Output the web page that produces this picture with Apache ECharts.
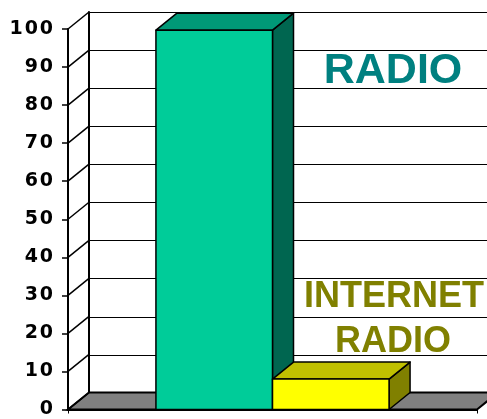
<!DOCTYPE html>
<html>
<head>
<meta charset="utf-8">
<script src="https://cdn.jsdelivr.net/npm/echarts@6/dist/echarts.min.js"></script>
<style>
html,body{margin:0;padding:0;background:#fff;}
#chart{width:487px;height:419px;}
</style>
</head>
<body>
<div id="chart"></div>
<script>
// ---- data ----
const categories = [''];
const seriesNames = ['RADIO', 'INTERNET RADIO'];
const radioValues = [99.7];
const internetRadioValues = [8];
const yTicks = [0, 10, 20, 30, 40, 50, 60, 70, 80, 90, 100];

// ---- style ----
const DX = 21, DY = 17;
const BAR_FRAC = 0.285;
const barColors = [
  { front: '#00CC99', top: '#009977', side: '#006650' },
  { front: '#FFFF00', top: '#C0C000', side: '#808000' }
];

const chart = echarts.init(document.getElementById('chart'), null, { renderer: 'canvas' });

function barRender(idx) {
  return function (params, api) {
    const v = api.value(1);
    const top = api.coord([api.value(0), v]);
    const base = api.coord([api.value(0), 0]);
    const cw = api.size([1, 0])[0];
    const bw = cw * BAR_FRAC;
    const x0 = top[0] - bw + idx * bw;
    const x1 = x0 + bw;
    const yT = top[1], yB = base[1];
    const c = barColors[idx];
    const st = { stroke: '#000', lineWidth: 1.5, lineJoin: 'round' };
    return {
      type: 'group',
      children: [
        { type: 'polygon', shape: { points: [[x1, yT], [x1 + DX, yT - DY], [x1 + DX, yB - DY], [x1, yB]] }, style: Object.assign({ fill: c.side }, st) },
        { type: 'polygon', shape: { points: [[x0, yT], [x1, yT], [x1 + DX, yT - DY], [x0 + DX, yT - DY]] }, style: Object.assign({ fill: c.top }, st) },
        { type: 'rect', shape: { x: x0, y: yT, width: bw, height: yB - yT }, style: Object.assign({ fill: c.front }, st) }
      ]
    };
  };
}

function wallRender(params, api) {
  const v = api.value(1);
  const p = api.coord([0, v]);
  const cs = params.coordSys;
  const children = [];
  if (v === 0) {
    const yB = p[1];
    children.push({
      type: 'polygon',
      shape: { points: [[cs.x, yB], [cs.x + cs.width, yB], [cs.x + cs.width + DX, yB - DY], [cs.x + DX, yB - DY]] },
      style: { fill: '#808080', stroke: '#000', lineWidth: 2 }
    });
  }
  children.push({
    type: 'line',
    shape: { x1: cs.x, y1: p[1], x2: cs.x + DX, y2: p[1] - DY },
    style: { stroke: '#000', lineWidth: 1.5 }
  });
  return { type: 'group', children: children };
}

const labelLines = seriesNames[1].split(' ');

const option = {
  backgroundColor: '#fff',
  animation: false,
  grid: [
    { left: 68, right: 10, top: 29, bottom: 9 },
    { left: 68 + DX, right: 10 - DX, top: 29 - DY, bottom: 9 + DY }
  ],
  xAxis: [
    { type: 'category', data: categories, gridIndex: 0,
      axisLine: { show: true, lineStyle: { color: '#000', width: 2 } },
      axisTick: { show: true, length: 4, lineStyle: { color: '#000', width: 1 } },
      axisLabel: { show: false }, splitLine: { show: false } },
    { type: 'category', data: categories, gridIndex: 1,
      axisLine: { show: true, lineStyle: { color: '#000', width: 2 } },
      axisTick: { show: false }, axisLabel: { show: false }, splitLine: { show: false } }
  ],
  yAxis: [
    { type: 'value', gridIndex: 0, min: 0, max: 100, interval: 10,
      axisLine: { show: true, lineStyle: { color: '#000', width: 2 } },
      axisTick: { show: true, length: 6, lineStyle: { color: '#000', width: 1.5 } },
      axisLabel: { show: true, margin: 15, color: '#000', fontWeight: 'bold', fontSize: 19, fontFamily: 'DejaVu Sans',
        formatter: function (v) { return String(v).split('').join('\u200A'); } },
      splitLine: { show: false } },
    { type: 'value', gridIndex: 1, min: 0, max: 100, interval: 10,
      axisLine: { show: true, lineStyle: { color: '#000', width: 2 } },
      axisTick: { show: false }, axisLabel: { show: false },
      splitLine: { show: true, lineStyle: { color: '#000', width: 1.2 } } }
  ],
  series: [
    { type: 'custom', name: 'walls', xAxisIndex: 0, yAxisIndex: 0, clip: false, z: 1,
      renderItem: wallRender, data: yTicks.map(function (v) { return [0, v]; }), silent: true },
    { type: 'custom', name: seriesNames[0], xAxisIndex: 0, yAxisIndex: 0, clip: false, z: 3,
      renderItem: barRender(0), data: radioValues.map(function (v, i) { return [i, v]; }) },
    { type: 'custom', name: seriesNames[1], xAxisIndex: 0, yAxisIndex: 0, clip: false, z: 4,
      renderItem: barRender(1), data: internetRadioValues.map(function (v, i) { return [i, v]; }) }
  ],
  graphic: [
    { type: 'text', x: 393, y: 71, z: 10,
      style: { text: seriesNames[0], fill: '#008080', font: 'bold 43px "Liberation Sans"', textAlign: 'center', textVerticalAlign: 'middle' } },
    { type: 'text', x: 394, y: 297, z: 10,
      style: { text: labelLines[0], fill: '#808000', font: 'bold 36px "Liberation Sans"', textAlign: 'center', textVerticalAlign: 'middle' } },
    { type: 'text', x: 393, y: 342, z: 10,
      style: { text: labelLines[1], fill: '#808000', font: 'bold 36px "Liberation Sans"', textAlign: 'center', textVerticalAlign: 'middle' } }
  ]
};
chart.setOption(option);
</script>
</body>
</html>
